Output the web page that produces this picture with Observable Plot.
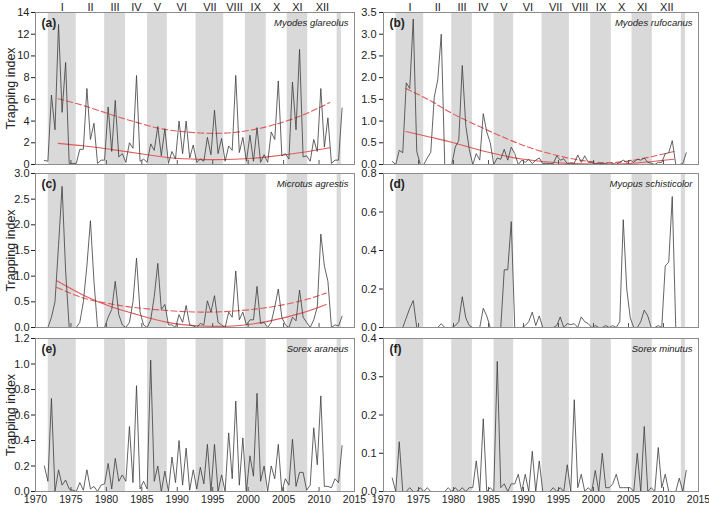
<!DOCTYPE html>
<html><head><meta charset="utf-8">
<script src="https://cdn.jsdelivr.net/npm/d3@7"></script>
<script src="https://cdn.jsdelivr.net/npm/@observablehq/plot@0.6"></script>
<style>
body{margin:0;background:#fff;}
#root{position:relative;width:709px;height:506px;overflow:hidden;background:#fff;}
#root > div{position:absolute;}
svg{overflow:visible;}
</style></head><body><div id="root"></div>
<script>
// ---- sampling times: spring & autumn, 1971 .. 2013 (85 samples)
const firstSample = 1971.25;
const sampleCount = 85;

// ---- cycles (shaded bands alternate)
const cycleLabels = ["I","II","III","IV","V","VI","VII","VIII","IX","X","XI","XII"];
const cycleStarts = [1971.8, 1975.75, 1979.75, 1982.7, 1985.8, 1988.6, 1992.65, 1996.55, 1999.6, 2002.55, 2005.5, 2008.4];
const cycleEnds   = [1975.75, 1979.75, 1982.7, 1985.8, 1988.6, 1992.65, 1996.55, 1999.6, 2002.55, 2005.5, 2008.4, 2012.55];
const lastBand = [2012.55, 2013.15];

// ---- series values (trapping index)
const myodesGlareolus = [0.37,0.3,6.4,3.2,12.9,4.8,9.4,0.1,0.1,0.1, 1.4,1.4,7.0,2.3,3.8,0.1,0.4,0.4,5.3,1.2, 5.9,0.7,1.0,0.2,2.0,1.5,8.2,0.3,0.5,0.2, 1.9,1.3,3.5,0.8,3.3,0.1,1.2,0.5,4.0,1.0, 4.0,0.6,1.8,0.2,0.5,0.3,2.5,0.9,5.0,1.0, 2.4,0.3,1.7,1.3,8.2,1.1,2.5,0.3,2.7,0.3, 3.4,0.2,0.9,0.2,3.0,2.3,7.7,0.8,1.0,0.5, 7.6,3.2,10.6,0.7,0.8,0.3,2.3,1.2,7.0,1.6, 4.3,0.1,0.4,0.4,5.2];
const myodesRufocanus = [0.07,0,0.33,0.27,1.88,1.75,3.35,0.3,0,0, 0.15,0.28,1.55,1.95,3.0,0,0,0,0.4,0.55, 2.28,0.9,0.35,0,0.25,0.1,1.17,0.75,0.5,0, 0.15,0.12,0.35,0.1,0.4,0.25,0,0.1,0.05,0.12, 0.02,0.1,0.15,0.02,0.03,0.02,0.02,0.2,0.1,0.13, 0.02,0.04,0.03,0.22,0.05,0.2,0.05,0.05,0.02,0.03, 0.02,0.02,0,0.02,0,0.05,0.1,0.05,0.1,0.05, 0.12,0.1,0.15,0.05,0.03,0,0.05,0.05,0.25,0.27, 0.55,0,0,0.02,0.27];
const microtusAgrestis = [0,0,0.2,0.5,1.6,2.75,1.1,0,0,0, 0.1,0.5,1.2,2.08,0.9,0,0,0,0.2,0.35, 0.9,0.25,0.05,0,0.1,0.5,1.35,0.3,0.05,0, 0.15,0.6,1.25,0.35,0.45,0.05,0.05,0,0.25,0.1, 0.43,0.05,0.03,0,0.08,0.05,0.52,0.3,0.62,0.1, 0.05,0,0.3,0.2,1.1,0.15,0.3,0.05,0.15,0.15, 0.8,0.08,0.1,0,0.1,0.4,0.75,0.2,0.05,0, 0.2,0.13,0.73,0.2,0.1,0,0.15,0.4,1.82,1.2, 0.9,0,0.05,0.03,0.22];
const myopusSchisticolor = [0,0,0,0,0.05,0.1,0.14,0,0,0, 0,0,0,0,0.02,0,0,0,0.01,0.03, 0.16,0.05,0.01,0,0,0,0.1,0.06,0,0, 0,0,0.3,0.3,0.55,0,0,0,0.01,0.03, 0.08,0.01,0.06,0,0,0,0,0.01,0.055,0, 0.02,0.015,0.02,0,0.055,0.03,0.02,0,0.01,0, 0,0.01,0,0.01,0,0.03,0.56,0.2,0.05,0, 0,0.03,0.09,0.06,0,0,0.01,0,0.32,0.34, 0.68,0,0,0,0];
const sorexAraneus = [0.2,0.08,0.73,0,0.17,0.05,0.09,0.02,0.01,0, 0.07,0.01,0.17,0.02,0.04,0,0.05,0.06,0.22,0.02, 0.26,0.08,0.13,0.08,0.51,0.07,0.83,0.02,0.08,0.02, 1.03,0.08,0.2,0,0.16,0,0.27,0.07,0.4,0.05, 0.34,0.01,0.17,0.02,0.19,0.06,0.37,0,0.37,0, 0.13,0,0.46,0.1,0.71,0.05,0.42,0,0.28,0.12, 0.77,0.08,0.2,0,0.2,0.1,0.37,0,0.1,0.05, 0.41,0.04,0.15,0.15,0.01,0.05,0.5,0.21,0.75,0.04, 0.04,0.03,0.1,0.07,0.36];
const sorexMinutus = [0.035,0,0.13,0,0,0.01,0,0,0.01,0, 0.01,0,0,0,0,0,0.01,0,0.01,0, 0.01,0,0.01,0.01,0.08,0,0.19,0,0.01,0, 0.34,0.01,0.02,0,0.02,0.02,0.045,0,0.045,0, 0.105,0,0.08,0,0,0,0.01,0,0.01,0, 0.07,0,0.24,0.01,0.045,0,0.01,0,0.055,0, 0.1,0.01,0.01,0.02,0.045,0.01,0.01,0.01,0.01,0, 0.1,0,0.17,0,0.01,0,0.115,0.01,0.045,0, 0,0,0.035,0,0.055];

// ---- quadratic trends (solid & dashed)
const trendAYears  = [1973.2, 1976.9, 1981.6, 1985.8, 1988.6, 1993.3, 1998.0, 2002.75, 2007.5, 2011.5];
const trendASolid  = [1.95, 1.7, 1.3, 0.9, 0.65, 0.47, 0.48, 0.7, 1.1, 1.55];
const trendADashed = [6.05, 5.4, 4.4, 3.6, 3.2, 2.9, 2.95, 3.5, 4.5, 5.7];
const trendBYears  = [1973.2, 1976.9, 1980, 1985, 1990, 1995, 2000, 2005, 2011.5];
const trendBSolid  = [0.76, 0.62, 0.5, 0.28, 0.12, 0.04, 0.01, 0.02, 0.12];
const trendBDashed = [1.75, 1.45, 1.16, 0.78, 0.44, 0.2, 0.06, 0.08, 0.3];
const trendCYears  = [1973.0, 1976.9, 1980.6, 1983.9, 1988.6, 1993.3, 1998.0, 2002.75, 2007.5, 2011.0];
const trendCSolid  = [0.91, 0.62, 0.41, 0.27, 0.1, 0.03, 0.03, 0.12, 0.28, 0.45];
const trendCDashed = [0.78, 0.57, 0.46, 0.39, 0.33, 0.3, 0.32, 0.39, 0.52, 0.67];

// ---- axis ticks
const xTickValues = [1970, 1975, 1980, 1985, 1990, 1995, 2000, 2005, 2010, 2015];

const sampleTimes = d3.range(sampleCount).map(i => firstSample + i / 2);
const cycles = cycleLabels.map((label, i) => ({label, x1: cycleStarts[i], x2: cycleEnds[i]}));
const bands = cycles.filter((d, i) => i % 2 === 0).map(d => ({x1: d.x1, x2: d.x2}))
  .concat([{x1: lastBand[0], x2: lastBand[1]}]);

const RED = "#e25a5a";
const FONT = "'Liberation Sans', Arial, sans-serif";

function trendData(years, vals) { return years.map((t, i) => ({t, v: vals[i]})); }

const panels = [
  {tag: "(a)", species: "Myodes glareolus", values: myodesGlareolus, yTicks: [0,2,4,6,8,10,12,14], fmt: "d",
   trend: [trendAYears, trendASolid, trendADashed], col: 0, row: 0},
  {tag: "(b)", species: "Myodes rufocanus", values: myodesRufocanus, yTicks: [0,0.5,1,1.5,2,2.5,3,3.5], fmt: ".1f",
   trend: [trendBYears, trendBSolid, trendBDashed], col: 1, row: 0},
  {tag: "(c)", species: "Microtus agrestis", values: microtusAgrestis, yTicks: [0,0.5,1,1.5,2,2.5,3], fmt: ".1f",
   trend: [trendCYears, trendCSolid, trendCDashed], col: 0, row: 1},
  {tag: "(d)", species: "Myopus schisticolor", values: myopusSchisticolor, yTicks: [0,0.2,0.4,0.6,0.8], fmt: ".1f",
   trend: null, col: 1, row: 1},
  {tag: "(e)", species: "Sorex araneus", values: sorexAraneus, yTicks: [0,0.2,0.4,0.6,0.8,1.0,1.2], fmt: ".1f",
   trend: null, col: 0, row: 2},
  {tag: "(f)", species: "Sorex minutus", values: sorexMinutus, yTicks: [0,0.1,0.2,0.3,0.4], fmt: ".1f",
   trend: null, col: 1, row: 2}
];

// layout (frame rectangles in page pixels)
const colLayout = [{left: 0, width: 360, ml: 35, mr: 6}, {left: 350, width: 359, ml: 33, mr: 11}];
const rowLayout = [{top: 0, mt: 12, fh: 152, mb: 6}, {top: 165, mt: 8, fh: 154, mb: 6}, {top: 330, mt: 8, fh: 153, mb: 15}];

const root = document.getElementById("root");

for (const p of panels) {
  const C = colLayout[p.col], R = rowLayout[p.row];
  const yMax = p.yTicks[p.yTicks.length - 1];
  const data = p.values.map((v, i) => ({t: sampleTimes[i], v}));
  const tickLen = yMax * 4 / R.fh;
  const marks = [
    Plot.rect(bands, {x1: "x1", x2: "x2", fill: "#d9d9d9"}),
  ];
  if (p.trend) {
    const [yrs, solid, dashed] = p.trend;
    marks.push(Plot.line(trendData(yrs, solid), {x: "t", y: "v", stroke: RED, strokeWidth: 1.1, curve: "natural"}));
    marks.push(Plot.line(trendData(yrs, dashed), {x: "t", y: "v", stroke: RED, strokeWidth: 1.1, strokeDasharray: "6,3", curve: "natural"}));
  }
  marks.push(Plot.line(data, {x: "t", y: "v", stroke: "#3c3c3c", strokeWidth: 0.8}));
  marks.push(Plot.ruleX(xTickValues, {x: d => d, y1: 0, y2: tickLen, stroke: "#555"}));
  marks.push(Plot.axisY({ticks: p.yTicks, tickFormat: p.fmt, tickSize: 4, tickPadding: p.col === 0 ? 2 : 3, label: null, fontSize: 11}));
  if (p.row === 2) {
    marks.push(Plot.axisX({ticks: xTickValues, tickFormat: "d", tickSize: 0, tickPadding: 4, label: null, fontSize: 10.5}));
  }
  if (p.col === 0) {
    marks.push(Plot.text(["Trapping index"], {frameAnchor: "left", text: d => d, rotate: -90, textAnchor: "middle", lineAnchor: "middle", dx: -25, fontSize: 12.5}));
  }
  if (p.row === 0) {
    marks.push(Plot.text(cycles, {x: d => (d.x1 + d.x2) / 2, frameAnchor: "top", text: "label", lineAnchor: "bottom", dy: -2, fontSize: 11}));
  }
  marks.push(Plot.text([p.tag], {frameAnchor: "top-left", text: d => d, dx: 6, dy: 6, fontWeight: "bold", fontSize: 12}));
  marks.push(Plot.text([p.species], {frameAnchor: "top-right", text: d => d, dx: -6, dy: 7, fontStyle: "italic", fontSize: 9.5}));
  marks.push(Plot.frame({stroke: "#8c8c8c"}));

  const chart = Plot.plot({
    width: C.width,
    height: R.mt + R.fh + R.mb,
    marginLeft: C.ml, marginRight: C.mr, marginTop: R.mt, marginBottom: R.mb,
    x: {domain: [1970, 2015], axis: null},
    y: {domain: [0, yMax], axis: null},
    style: {fontFamily: FONT, fontSize: "11px", background: "transparent", color: "#222"},
    marks
  });
  const holder = document.createElement("div");
  holder.style.left = C.left + "px";
  holder.style.top = R.top + "px";
  holder.appendChild(chart);
  root.appendChild(holder);
}
</script>
</body></html>
